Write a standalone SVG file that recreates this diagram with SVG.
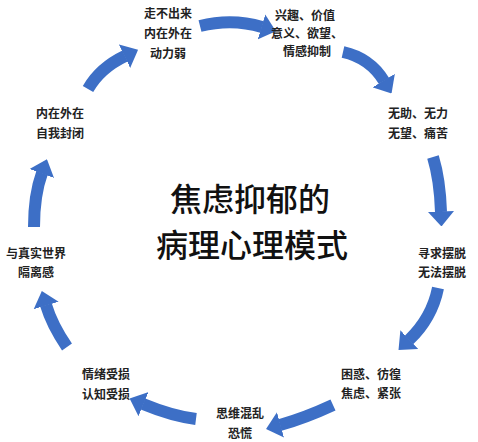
<svg xmlns="http://www.w3.org/2000/svg" width="478" height="442" viewBox="0 0 478 442">
<style>
.lbl{font-family:"Noto Sans CJK SC","Noto Sans",sans-serif;font-size:12px;font-weight:bold;fill:#222;text-anchor:middle;dominant-baseline:central}
.title{font-family:"Noto Sans CJK SC","Noto Sans",sans-serif;font-size:32px;font-weight:500;fill:#111;text-anchor:middle;dominant-baseline:central}
.arr{fill:none;stroke:#3d6fc6;stroke-width:12;stroke-linecap:butt}
</style>
<defs>
<marker id="head" viewBox="0 0 15 26" markerWidth="15" markerHeight="26" refX="0.5" refY="13" markerUnits="userSpaceOnUse" orient="auto">
<path d="M0,0 L15,13 L0,26 Z" fill="#3d6fc6"/>
</marker>
</defs>
<rect width="478" height="442" fill="#ffffff"/>
<g id="connectors">
<path class="arr" marker-end="url(#head)" d="M200,26 Q232,18 262,27"/>
<path class="arr" marker-end="url(#head)" d="M343,52 Q370,58 384,81"/>
<path class="arr" marker-end="url(#head)" d="M433,157 Q440,180 441,212"/>
<path class="arr" marker-end="url(#head)" d="M438,288 Q432,318 409,340"/>
<path class="arr" marker-end="url(#head)" d="M333,405 Q305,418 280,425"/>
<path class="arr" marker-end="url(#head)" d="M196,419 Q172,416 143,404"/>
<path class="arr" marker-end="url(#head)" d="M67,347 Q52,325 46,305"/>
<path class="arr" marker-end="url(#head)" d="M34,227 Q34,195 42,173"/>
<path class="arr" marker-end="url(#head)" d="M88,89 Q100,68 125,56"/>
</g>
<g id="center-title">
<text class="title" x="250" y="197">焦虑抑郁的</text>
<text class="title" x="252" y="243">病理心理模式</text>
</g>
<g id="node-top">
<text class="lbl" x="168" y="12">走不出来</text>
<text class="lbl" x="168" y="32">内在外在</text>
<text class="lbl" x="168" y="52">动力弱</text>
</g>
<g id="node-top-right">
<text class="lbl" x="305" y="14">兴趣、价值</text>
<text class="lbl" x="307" y="32">意义、欲望、</text>
<text class="lbl" x="307" y="50">情感抑制</text>
</g>
<g id="node-right-upper">
<text class="lbl" x="418" y="112">无助、无力</text>
<text class="lbl" x="418" y="132">无望、痛苦</text>
</g>
<g id="node-right">
<text class="lbl" x="442" y="252">寻求摆脱</text>
<text class="lbl" x="442" y="271">无法摆脱</text>
</g>
<g id="node-bottom-right">
<text class="lbl" x="371" y="373">困惑、彷徨</text>
<text class="lbl" x="371" y="392">焦虑、紧张</text>
</g>
<g id="node-bottom">
<text class="lbl" x="240" y="412">思维混乱</text>
<text class="lbl" x="240" y="432">恐慌</text>
</g>
<g id="node-bottom-left">
<text class="lbl" x="106" y="373">情绪受损</text>
<text class="lbl" x="106" y="393">认知受损</text>
</g>
<g id="node-left">
<text class="lbl" x="36" y="252">与真实世界</text>
<text class="lbl" x="36" y="271">隔离感</text>
</g>
<g id="node-left-upper">
<text class="lbl" x="60" y="112">内在外在</text>
<text class="lbl" x="60" y="132">自我封闭</text>
</g>
</svg>
